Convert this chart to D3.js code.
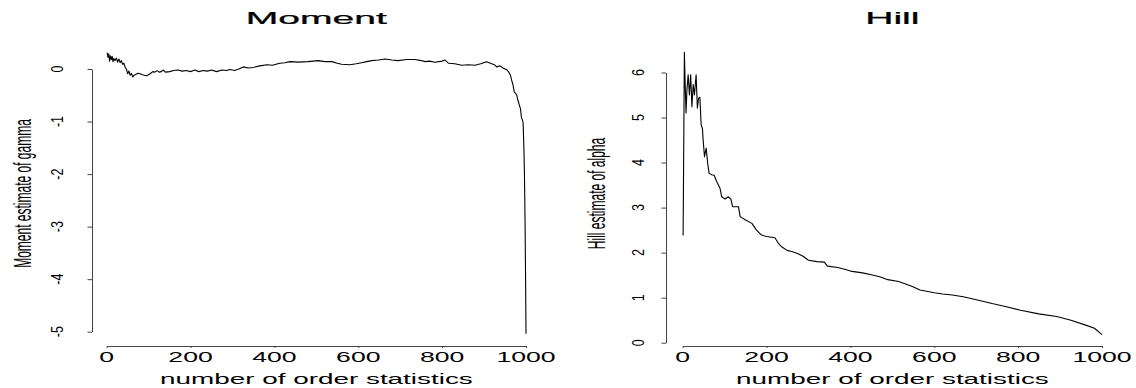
<!DOCTYPE html>
<html>
<head>
<meta charset="utf-8">
<script src="https://cdn.jsdelivr.net/npm/d3@7"></script>
<style>
  body { margin: 0; background: #fff; }
  text { font-family: "Liberation Sans", Arial, sans-serif; fill: #000; }
</style>
</head>
<body>
<div id="chart"></div>
<script>
// tick values
var xTicks = [0, 200, 400, 600, 800, 1000];
var momentTicks = [0, -1, -2, -3, -4, -5];
var hillTicks = [0, 1, 2, 3, 4, 5, 6];

// Moment estimate of gamma
var momentK = [1,3,5,7,9,11,13,15,17,20,23,26,29,32,35,38,41,44,47,50,53,56,59,62,65,70,75,80,85,90,95,100,105,110,115,120,125,130,135,140,150,160,170,180,190,200,210,220,230,240,250,262,275,285,294,305,315,326,338,350,365,382,395,413,425,437,457,480,505,520,537,550,560,580,595,608,620,632,648,664,680,695,715,735,750,759,770,783,800,807,815,830,847,862,878,892,906,912,918,925,930,938,945,950,955,959,963,966,969,972,975,978,981,985,987,989,991,993,995,996,997,998,999,1000];
var momentVal = [0.31,0.22,0.29,0.15,0.25,0.18,0.24,0.14,0.2,0.16,0.21,0.13,0.19,0.12,0.16,0.09,0.11,0.03,0.0,-0.09,-0.04,-0.12,-0.08,-0.15,-0.12,-0.1,-0.08,-0.09,-0.11,-0.12,-0.13,-0.11,-0.08,-0.05,-0.06,-0.03,-0.06,-0.05,-0.02,-0.06,-0.05,-0.03,-0.02,-0.04,-0.03,-0.05,-0.02,-0.05,-0.03,-0.04,-0.02,-0.05,-0.02,-0.03,-0.01,-0.03,0.0,0.04,0.02,0.03,0.06,0.08,0.07,0.11,0.12,0.14,0.13,0.14,0.16,0.14,0.14,0.11,0.09,0.08,0.1,0.12,0.14,0.16,0.17,0.19,0.17,0.16,0.18,0.18,0.16,0.14,0.15,0.13,0.15,0.17,0.11,0.1,0.07,0.08,0.07,0.1,0.14,0.12,0.1,0.08,0.04,0.06,0.02,0.0,-0.02,-0.06,-0.12,-0.22,-0.3,-0.44,-0.46,-0.5,-0.6,-0.71,-0.76,-0.92,-0.96,-1.01,-1.5,-1.86,-2.4,-3.1,-4.0,-5.04];

// Hill estimate of alpha
var hillK = [1,4,6,8,10,13,16,19,22,25,28,32,35,38,41,44,47,49,52,56,60,63,69,75,81,89,93,101,109,115,119,133,137,149,165,176,188,200,220,228,236,249,262,274,287,300,320,338,345,370,386,400,429,450,472,489,515,530,549,566,600,620,643,669,703,738,772,806,849,892,926,961,982,1000];
var hillVal = [2.38,6.45,5.7,5.1,5.6,5.95,5.5,5.95,5.24,5.73,5.5,5.95,5.21,5.43,5.45,4.84,4.76,4.47,4.13,4.32,3.95,3.76,3.73,3.72,3.58,3.43,3.24,3.19,3.24,3.19,3.02,3.02,2.8,2.73,2.65,2.5,2.39,2.36,2.33,2.21,2.13,2.05,2.02,1.98,1.92,1.83,1.8,1.79,1.7,1.67,1.63,1.59,1.55,1.51,1.46,1.4,1.36,1.31,1.24,1.17,1.11,1.08,1.06,1.02,0.95,0.87,0.8,0.72,0.64,0.58,0.5,0.39,0.32,0.18];

var width = 1136, height = 388;

var svg = d3.select("#chart")
  .append("svg")
    .attr("width", width)
    .attr("height", height);

// text squeezed / stretched like the original bitmap
function stretchText(x, y, str, size, sx, rotated, stroke) {
  var t = svg.append("text")
    .attr("transform", "translate(" + x + "," + y + ") scale(" + sx + ",1)" + (rotated ? " rotate(-90)" : ""))
    .attr("text-anchor", "middle")
    .style("font-size", size + "px")
    .text(str);
  if (stroke) t.attr("stroke", "#000").attr("stroke-width", stroke);
  return t;
}

function panel(p) {
  var x = d3.scaleLinear().domain([0, 1000]).range(p.xRange);
  var y = d3.scaleLinear().domain(p.yDomain).range(p.yRange);

  var gx = svg.append("g")
    .attr("transform", "translate(0," + p.xAxisY + ")")
    .call(d3.axisBottom(x).tickValues(xTicks).tickSize(2).tickSizeOuter(0).tickFormat(""));
  var gy = svg.append("g")
    .attr("transform", "translate(" + p.yAxisX + ",0)")
    .call(d3.axisLeft(y).tickValues(p.yTicks).tickSize(4.5).tickSizeOuter(0).tickFormat(""));
  [gx, gy].forEach(function(g) {
    g.selectAll("path, line").attr("stroke", "#444").attr("stroke-width", 1);
  });

  xTicks.forEach(function(d) {
    stretchText(x(d), 362, String(d), 14, 1.9, false);
  });
  p.yTicks.forEach(function(d) {
    stretchText(p.tickLabelX, y(d), String(d), 12.5, 1.25, true);
  });

  var line = d3.line()
    .x(function(d, i) { return x(p.k[i]); })
    .y(function(d) { return y(d); });

  svg.append("path")
    .datum(p.v)
    .attr("d", line)
    .attr("fill", "none")
    .attr("stroke", "#000")
    .attr("stroke-width", 1.1)
    .attr("stroke-linejoin", "round");

  var cx = (p.xRange[0] + p.xRange[1]) / 2;
  stretchText(cx, 24, p.title, 17, 2.3, false, 0.25);
  stretchText(cx, 383.5, "number of order statistics", 15, 1.86, false);
  stretchText(p.yLabelX, 193.5, p.yLabel, 12, 2.05, true);
}

panel({
  title: "Moment",
  yLabel: "Moment estimate of gamma",
  k: momentK, v: momentVal,
  xRange: [106.7, 526], yDomain: [0, -5], yRange: [69, 331.7],
  yTicks: momentTicks,
  xAxisY: 346, yAxisX: 92, tickLabelX: 63, yLabelX: 31
});

panel({
  title: "Hill",
  yLabel: "Hill estimate of alpha",
  k: hillK, v: hillVal,
  xRange: [682.7, 1102], yDomain: [0, 6], yRange: [342.7, 72.5],
  yTicks: hillTicks,
  xAxisY: 346, yAxisX: 666, tickLabelX: 644, yLabelX: 605
});
</script>
</body>
</html>
